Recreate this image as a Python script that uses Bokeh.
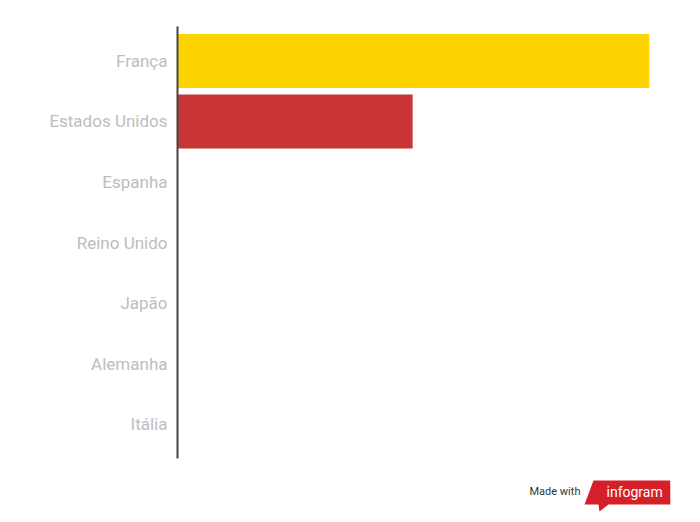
from bokeh.plotting import figure
from bokeh.models import Range1d, FactorRange
from bokeh.layouts import column
from bokeh.embed import file_html
from bokeh.resources import INLINE
from bokeh.core.properties import value

categories = ["França", "Estados Unidos", "Espanha", "Reino Unido", "Japão", "Alemanha", "Itália"]
values = [95.7, 47.7, 0, 0, 0, 0, 0]
colors = ["#fdd300", "#c93535", "#c93535", "#c93535", "#c93535", "#c93535", "#c93535"]

p = figure(width=684, height=468, output_backend="svg", toolbar_location=None,
           y_range=FactorRange(factors=list(reversed(categories)), range_padding=0.07,
                               range_padding_units="absolute"),
           x_range=Range1d(0, 100),
           min_border_left=177, min_border_right=14, min_border_top=26, min_border_bottom=10)
p.hbar(y=categories, right=values, left=0, height=0.89, color=colors, line_color=None)

p.xaxis.visible = False
p.xgrid.visible = False
p.ygrid.visible = False
p.outline_line_color = None
ax = p.yaxis[0]
ax.axis_line_color = "#444444"
ax.axis_line_width = 2
ax.major_tick_line_color = None
ax.minor_tick_line_color = None
ax.major_label_text_color = "#bdbdbd"
ax.major_label_text_font = "Roboto"
ax.major_label_text_font_size = "17px"
ax.major_label_standoff = 4

# "Made with infogram" badge, drawn in a small strip below the chart (pixel coordinates,
# frame aligned with the chart's frame: 177..670)
logo = figure(width=684, height=46, output_backend="svg", toolbar_location=None,
              x_range=Range1d(177, 670), y_range=Range1d(514, 468),
              min_border_left=177, min_border_right=14, min_border_top=0, min_border_bottom=0)
logo.axis.visible = False
logo.grid.visible = False
logo.outline_line_color = None
logo.patch(x=[593, 670, 670, 608, 599, 598, 584], y=[480, 480, 504, 504, 511, 504, 504],
           fill_color="#d5202a", line_color=None)
logo.text(x=[529], y=[491], text=["Made with"], text_font=value("Roboto"), text_font_size="11px",
          text_color="#333333", text_baseline="middle")
logo.text(x=[606], y=[491], text=["infogram"], text_font=value("Roboto"), text_font_size="14px",
          text_color="#ffffff", text_baseline="middle")

open("out.html", "w").write(file_html(column(p, logo, spacing=0), INLINE))
